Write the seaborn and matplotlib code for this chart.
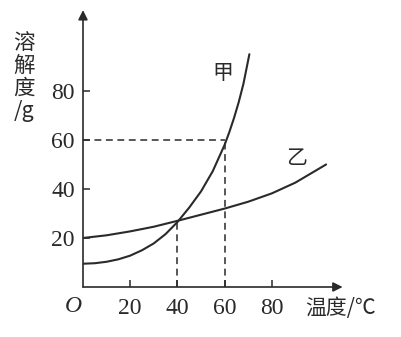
import matplotlib
matplotlib.use("Agg")
import matplotlib.pyplot as plt
import seaborn as sns
import pandas as pd

# ---- data ----
jia_x = [0, 5, 10, 15, 20, 25, 30, 35, 40, 45, 50, 55, 60, 62, 64, 66, 68, 70.5]
jia_y = [9.5, 9.7, 10.3, 11.3, 12.8, 15.0, 17.8, 21.6, 26.5, 32.4, 39.0, 47.3,
         58.0, 63.2, 69.0, 75.5, 83.0, 95.0]
yi_x = [0, 10, 20, 30, 40, 50, 60, 70, 80, 90, 103]
yi_y = [20, 21.1, 22.7, 24.6, 27, 29.5, 32, 34.8, 38.2, 42.6, 50]
x_ticks = [20, 40, 60, 80]
y_ticks = [20, 40, 60, 80]
guide_x = [40, 60]
guide_y = [27, 60]
series_names = ["甲", "乙"]
x_label = "温度/℃"
y_label = "溶\n解\n度\n/g"

df = pd.concat([
    pd.DataFrame({"t": jia_x, "s": jia_y, "name": series_names[0]}),
    pd.DataFrame({"t": yi_x, "s": yi_y, "name": series_names[1]}),
])

sns.set_theme(style="white")
plt.rcParams["font.family"] = ["Noto Sans CJK SC", "DejaVu Sans"]

ink = "#2a2a2a"
fig = plt.figure(figsize=(4.01, 3.37), dpi=100)
ax = fig.add_axes([83 / 401, 50 / 337, 259.6 / 401, 276.9 / 337])

sns.lineplot(data=df, x="t", y="s", units="name", estimator=None, sort=False,
             color=ink, linewidth=1.5, ax=ax, legend=False)
for ln in ax.lines:
    ln.set_solid_joinstyle("round")

# dashed guides
dash = dict(color=ink, linewidth=1.1, linestyle=(0, (4.5, 3)))
ax.plot([guide_x[0], guide_x[0]], [0, guide_y[0]], **dash)
ax.plot([guide_x[1], guide_x[1]], [0, guide_y[1]], **dash)
ax.plot([0, guide_x[1]], [guide_y[1], guide_y[1]], **dash)

ax.set_xlim(0, 110)
ax.set_ylim(0, 113)
for s in ax.spines.values():
    s.set_visible(False)

# axes with arrows
arrow = dict(arrowstyle="-|>", lw=1.2, color=ink, mutation_scale=14,
             shrinkA=0, shrinkB=0)
ax.annotate("", xy=(1, 0), xytext=(0, 0), xycoords="axes fraction",
            textcoords="axes fraction", arrowprops=arrow, annotation_clip=False)
ax.annotate("", xy=(0, 1), xytext=(0, 0), xycoords="axes fraction",
            textcoords="axes fraction", arrowprops=arrow, annotation_clip=False)

ax.set_xticks(x_ticks)
ax.set_yticks(y_ticks)
ax.tick_params(axis="both", direction="in", length=5, width=1.1, color=ink,
               labelsize=17, labelcolor=ink)
ax.tick_params(axis="x", pad=8, bottom=True)
ax.tick_params(axis="y", pad=6, left=True)
for lab in ax.get_xticklabels() + ax.get_yticklabels():
    lab.set_fontfamily("Liberation Serif")
ax.set_xlabel("")
ax.set_ylabel("")
ax.grid(False)

# origin label
ax.text(-4, -8, "O", ha="center", va="center", fontsize=17, style="italic",
        family="Liberation Serif", color=ink, clip_on=False)

# curve labels
ax.text(59.3, 87.3, series_names[0], ha="center", va="center", fontsize=15,
        color=ink, fontweight="light")
ax.text(90.5, 52.5, series_names[1], ha="center", va="center", fontsize=15,
        color=ink, fontweight="light")

# axis titles
fig.text(341 / 401, 1 - 308 / 337, x_label, ha="center", va="center",
         fontsize=15, color=ink, fontweight="light")
fig.text(24 / 401, 1 - 77 / 337, y_label, ha="center", va="center",
         fontsize=15.5, color=ink, linespacing=1.05, fontweight="light")

fig.savefig("out.png", dpi=100)
